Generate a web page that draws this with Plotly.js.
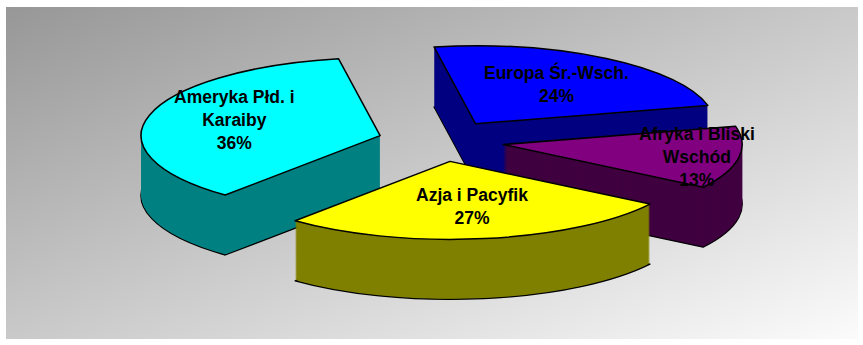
<!DOCTYPE html>
<html><head><meta charset="utf-8">
<script src="https://cdn.plot.ly/plotly-3.0.1.min.js"></script>
<style>
html,body{margin:0;padding:0;background:#ffffff;}
#wrap{position:relative;width:863px;height:345px;overflow:hidden;}
#bg{position:absolute;left:6px;top:7px;width:852px;height:332px;background:linear-gradient(to bottom right,#979797,#fbfbfb);}
#chart{position:absolute;left:0;top:0;width:863px;height:345px;}
</style></head>
<body><div id="wrap"><div id="bg"></div><div id="chart"></div></div>
<script>
// ---- data ----
const regions = ['Europa Śr.-Wsch.', 'Afryka i Bliski Wschód', 'Azja i Pacyfik', 'Ameryka Płd. i Karaiby'];
const regionLines = ['Europa Śr.-Wsch.', 'Afryka i Bliski<br>Wschód', 'Azja i Pacyfik', 'Ameryka Płd. i<br>Karaiby'];
const shares = [24, 13, 27, 36];
const topColors = ['#0000FF', '#800080', '#FFFF00', '#00FFFF'];
const sideColors = ['#000080', '#400040', '#808000', '#008080'];

// ---- layout / style ----
const W = 863, H = 345;
const CX = 441, CY = 141;       // pie centre (px)
const RX = 239, RY = 78;        // ellipse radii of top face (px)
const DEPTH = 60, STEP = 1;     // extrusion depth (px)
const PULL = 0.264;
const ROT = -10;
const BOX = 130;                // half-size of pie domain box (px)
const labelPos = [[556, 84], [697, 157], [472, 206], [234, 120]];

const domain = {
  x: [(CX - BOX) / W, (CX + BOX) / W],
  y: [(H - CY - BOX) / H, (H - CY + BOX) / H]
};

function pieTrace(colors, lineW) {
  return {
    type: 'pie', values: shares, labels: regions, sort: false,
    direction: 'clockwise', rotation: ROT,
    pull: shares.map(() => PULL),
    domain: domain, textinfo: 'none', hoverinfo: 'skip', showlegend: false,
    marker: { colors: colors, line: { color: lineW > 0 ? '#000000' : 'rgba(0,0,0,0)', width: lineW } }
  };
}

const data = [];
const depths = [];
for (let d = DEPTH; d > 0; d -= STEP) {
  data.push(pieTrace(sideColors, d === DEPTH ? 1.3 : 0));
  depths.push(d);
}
data.push(pieTrace(topColors, 1.5));
depths.push(0);

const total = shares.reduce((a, b) => a + b, 0);
const annotations = regionLines.map((t, i) => ({
  text: t + '<br>' + Math.round(shares[i] / total * 100) + '%',
  x: labelPos[i][0] / W, y: 1 - labelPos[i][1] / H,
  xref: 'paper', yref: 'paper', xanchor: 'center', yanchor: 'middle',
  showarrow: false, align: 'center',
  font: { family: 'Liberation Sans, Arial, sans-serif', size: 17.5, color: '#000000', weight: 'bold' }
}));

const layout = {
  width: W, height: H,
  margin: { l: 0, r: 0, t: 0, b: 0 },
  paper_bgcolor: 'rgba(0,0,0,0)', plot_bgcolor: 'rgba(0,0,0,0)',
  annotations: annotations
};

Plotly.newPlot('chart', data, layout, { staticPlot: true, displayModeBar: false }).then(gd => {
  const groups = gd.querySelectorAll('.pielayer .trace');
  groups.forEach((g, i) => {
    const cd0 = gd.calcdata[i][0];
    const r = cd0.r, cx = cd0.cx, cy = cd0.cy;
    const sx = RX / r, sy = RY / r;
    const d = depths[i];
    g.setAttribute('transform',
      'translate(' + cx + ',' + (cy + d) + ') scale(' + sx + ',' + sy + ') translate(' + (-cx) + ',' + (-cy) + ')');
    g.querySelectorAll('path').forEach(p => { p.style.vectorEffect = 'non-scaling-stroke'; });
  });
});
</script>
</body></html>
